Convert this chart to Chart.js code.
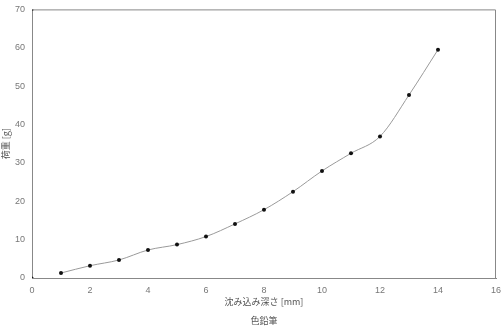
<!DOCTYPE html>
<html>
<head>
<meta charset="utf-8">
<script src="https://cdn.jsdelivr.net/npm/chart.js@4/dist/chart.umd.min.js"></script>
<style>
  html, body { margin: 0; padding: 0; background: #fff; }
  #wrap { width: 501px; height: 329px; }
</style>
</head>
<body>
<div id="wrap"><canvas id="chart" width="501" height="329"></canvas></div>
<script>
// depth [mm] vs load [g]
const depths = [1, 2, 3, 4, 5, 6, 7, 8, 9, 10, 11, 12, 13, 14];
const loads = [1.3, 3.2, 4.7, 7.3, 8.7, 10.8, 14.1, 17.8, 22.5, 27.9, 32.5, 36.9, 47.7, 59.5];
const cornerX = [0, 0];
const cornerY = [0, 70];

const xTitle = '沈み込み深さ [mm]';
const yTitle = '荷重 [g]';
const seriesName = '色鉛筆';

const font = { family: 'Liberation Sans, DejaVu Sans, Noto Sans CJK JP', size: 9 };
const fontJP = { family: 'Noto Sans CJK JP', size: 9 };

const ctx = document.getElementById('chart').getContext('2d');
new Chart(ctx, {
  type: 'scatter',
  data: {
    datasets: [{
      label: seriesName,
      data: depths.map((d, i) => ({ x: d, y: loads[i] })),
      showLine: true,
      borderColor: '#9a9a9a',
      borderWidth: 1,
      tension: 0.4,
      cubicInterpolationMode: 'monotone',
      pointRadius: 2,
      pointBackgroundColor: '#111',
      pointBorderColor: '#111',
      pointBorderWidth: 0
    }, {
      label: 'corner',
      data: cornerX.map((d, i) => ({ x: d, y: cornerY[i] })),
      showLine: false,
      pointRadius: 1.6,
      pointBackgroundColor: '#111',
      pointBorderColor: '#111',
      pointBorderWidth: 0
    }]
  },
  options: {
    responsive: false,
    animation: false,
    layout: { padding: { top: 8, right: 5, left: 0, bottom: 22 } },
    plugins: {
      legend: { display: false },
      tooltip: { enabled: false }
    },
    scales: {
      x: {
        type: 'linear',
        min: 0,
        max: 16,
        afterFit: s => { s.height = 29; s.paddingRight = 0; },
        ticks: { stepSize: 2, color: '#777', font: font, padding: 4 },
        grid: { display: false, drawTicks: true, tickLength: 3, color: '#888' },
        border: { color: '#888', width: 1 },
        title: { display: true, text: xTitle, color: '#555', font: fontJP, padding: { top: 0, bottom: 0 } }
      },
      y: {
        min: 0,
        max: 70,
        afterFit: s => { s.width = 32; },
        ticks: { stepSize: 10, color: '#777', font: font, padding: 4 },
        grid: { display: false, tickLength: 3, color: '#888' },
        border: { color: '#888', width: 1 },
        title: { display: true, text: yTitle, color: '#555', font: fontJP, padding: { top: 0, bottom: 3 } }
      }
    }
  },
  plugins: [{
    id: 'frame',
    afterDraw(chart) {
      const a = chart.chartArea;
      const c = chart.ctx;
      c.save();
      c.strokeStyle = '#888';
      c.lineWidth = 1;
      c.beginPath();
      c.moveTo(a.left, a.top + 0.5);
      c.lineTo(a.right - 0.5, a.top + 0.5);
      c.lineTo(a.right - 0.5, a.bottom);
      c.stroke();
      // series name under the axis title
      c.fillStyle = '#555';
      c.font = '9px "Noto Sans CJK JP"';
      c.textAlign = 'center';
      c.textBaseline = 'middle';
      c.fillText(seriesName, (a.left + a.right) / 2, 321);
      c.restore();
    }
  }]
});
</script>
</body>
</html>
